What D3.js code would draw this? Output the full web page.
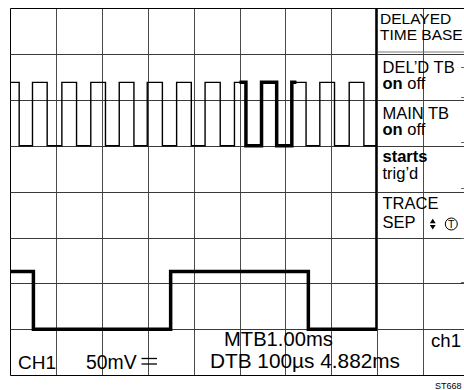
<!DOCTYPE html>
<html><head><meta charset="utf-8">
<script src="https://cdn.jsdelivr.net/npm/d3@7"></script>
<style>
html,body{margin:0;padding:0;background:#fff;}
svg{display:block;font-family:"Liberation Sans",Arial,Helvetica,sans-serif;}
</style></head>
<body>
<script>
// ---- data (time in screen divisions, level in divisions from top) ----
const mainEdges = [0.20,0.49,0.81,1.13,1.45,1.76,2.08,2.38,2.70,2.99,3.32,3.63,3.95,4.25,4.58,4.89,5.14,5.48,5.81,6.14,6.45,6.75,7.07,7.39,7.71];
const mainLevels = [1.62, 3.0];          // high, low
const intensified = [5.0, 6.24];         // delayed-timebase window
const delayedEdges = [0.51, 3.50, 6.50];
const delayedLevels = [5.74, 7.0];       // high, low
const traceEnd = 8.0;
const menuItems = [
  [["DELAYED"], ["TIME BASE"]],
  [["DEL’D TB"], [["on", true], [" off", false]]],
  [["MAIN TB"], [["on", true], [" off", false]]],
  [[["starts", true]], ["trig’d"]],
  [["TRACE"], ["SEP"]]
];
const bottomLabels = ["CH1", "50mV", "MTB1.00ms", "DTB 100µs 4.882ms", "ch1"];
const figId = "ST668";

const W = 464, H = 390;
const svg = d3.select("body").append("svg").attr("width", W).attr("height", H);
const x = d3.scaleLinear().domain([0, 10]).range([10, 469]);
const y = d3.scaleLinear().domain([0, 8]).range([8, 375.2]);
const cx = v => Math.round(x(v)) + 0.5;
const cy = v => Math.round(y(v)) + 0.5;

// grid
const g = svg.append("g");
d3.range(0, 10).forEach(i => {
  g.append("line").attr("x1", cx(i)).attr("x2", cx(i)).attr("y1", cy(0)).attr("y2", cy(8))
    .attr("stroke", i === 0 ? "#000" : "#4a4a4a").attr("stroke-width", 1);
});
d3.range(0, 9).forEach(j => {
  g.append("line").attr("x1", cx(0)).attr("x2", W).attr("y1", cy(j)).attr("y2", cy(j))
    .attr("stroke", (j === 0 || j === 8) ? "#000" : "#3a3a3a").attr("stroke-width", 1);
});
// double line under menu title
g.append("line").attr("x1", cx(8)).attr("x2", W).attr("y1", cy(1) - 2.5).attr("y2", cy(1) - 2.5)
  .attr("stroke", "#777").attr("stroke-width", 1);
// menu left border (thick)
g.append("line").attr("x1", x(8) - 1).attr("x2", x(8) - 1).attr("y1", y(0)).attr("y2", y(7))
  .attr("stroke", "#000").attr("stroke-width", 2);
// right-edge softkey marks
[1.28, 1.94, 2.93, 3.92, 5.0, 5.98].forEach(v => {
  g.append("line").attr("x1", W - 3).attr("x2", W).attr("y1", cy(v)).attr("y2", cy(v))
    .attr("stroke", "#666").attr("stroke-width", 1);
});

// waveforms
function stepData(edges, levels, end) {
  const pts = [[0, levels[0]]];
  edges.forEach((t, i) => pts.push([t, levels[(i + 1) % 2]]));
  pts.push([end, levels[edges.length % 2]]);
  return pts;
}
const line = d3.line().x(d => x(d[0])).y(d => y(d[1])).curve(d3.curveStepAfter);
const mainPts = stepData(mainEdges, mainLevels, traceEnd);
const delPts = stepData(delayedEdges, delayedLevels, traceEnd);

svg.append("defs").append("clipPath").attr("id", "intens").append("rect")
  .attr("x", x(intensified[0])).attr("y", 0)
  .attr("width", x(intensified[1]) - x(intensified[0])).attr("height", H);

svg.append("path").datum(mainPts).attr("d", line).attr("fill", "none")
  .attr("stroke", "#000").attr("stroke-width", 1.4);
svg.append("path").datum(mainPts).attr("d", line).attr("fill", "none")
  .attr("stroke", "#000").attr("stroke-width", 3.5).attr("clip-path", "url(#intens)")
  .attr("stroke-linejoin", "miter");
svg.append("path").datum(delPts).attr("d", line).attr("fill", "none")
  .attr("stroke", "#000").attr("stroke-width", 3.5).attr("stroke-linejoin", "miter");

// menu text
const baselines = [[24, 40], [73, 89], [119, 135], [162, 179], [209, 228]];
const sizes = [15.5, 16.5, 16.5, 16.5, 16.5];
const mt = svg.append("g").attr("fill", "#000");
menuItems.forEach((item, r) => {
  item.forEach((ln, k) => {
    const t = mt.append("text").attr("x", r === 0 ? 380 : 382.5).attr("y", baselines[r][k])
      .attr("font-size", sizes[r]);
    ln.forEach(part => {
      if (typeof part === "string") t.append("tspan").text(part);
      else t.append("tspan").attr("font-weight", part[1] ? "bold" : "normal").text(part[0]);
    });
  });
});
// trace-sep arrows and circled T
const sym = svg.append("g");
sym.append("path").attr("d", "M429.8,223.3 L432.75,218.8 L435.7,223.3 Z").attr("fill", "#000");
sym.append("path").attr("d", "M429.8,224.9 L432.75,229.4 L435.7,224.9 Z").attr("fill", "#000");
sym.append("circle").attr("cx", 451.3).attr("cy", 224).attr("r", 6)
  .attr("fill", "none").attr("stroke", "#000").attr("stroke-width", 1);
sym.append("text").attr("x", 451.3).attr("y", 227.9).attr("text-anchor", "middle")
  .attr("font-size", 10.5).text("T");

// bottom labels
const bt = svg.append("g").attr("fill", "#000");
bt.append("text").attr("x", 18).attr("y", 369).attr("font-size", 19).text(bottomLabels[0]);
bt.append("text").attr("x", 86).attr("y", 369).attr("font-size", 19.4).text(bottomLabels[1]);
bt.append("line").attr("x1", 141.5).attr("x2", 157).attr("y1", 358.5).attr("y2", 358.5).attr("stroke", "#000").attr("stroke-width", 1.3);
bt.append("line").attr("x1", 141.5).attr("x2", 157).attr("y1", 364).attr("y2", 364).attr("stroke", "#000").attr("stroke-width", 1.3);
bt.append("text").attr("x", 224).attr("y", 346).attr("font-size", 20.2).text(bottomLabels[2]);
bt.append("text").attr("x", 210).attr("y", 368).attr("font-size", 20.8).text(bottomLabels[3]);
bt.append("text").attr("x", 431).attr("y", 347).attr("font-size", 18.6).text(bottomLabels[4]);
svg.append("text").attr("x", 435).attr("y", 389).attr("font-size", 9).text(figId);
</script>
</body></html>
